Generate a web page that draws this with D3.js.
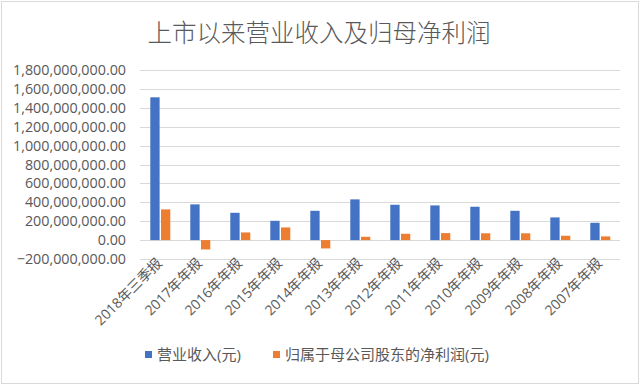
<!DOCTYPE html>
<html>
<head>
<meta charset="utf-8">
<script src="https://cdn.jsdelivr.net/npm/d3@7"></script>
<style>
  body { margin: 0; background: #fff; }
  text { font-family: "Open Sans", "Noto Sans CJK SC", sans-serif; fill: #595959; }
</style>
</head>
<body>
<div id="viz"></div>
<script>
// data
var categories = ["2018年三季报", "2017年年报", "2016年年报", "2015年年报", "2014年年报", "2013年年报",
  "2012年年报", "2011年年报", "2010年年报", "2009年年报", "2008年年报", "2007年年报"];
var revenue = [1511e6, 378e6, 289e6, 204e6, 310e6, 431e6, 374e6, 367e6, 353e6, 310e6, 240e6, 183e6];
var netProfit = [325e6, -99e6, 81e6, 134e6, -88e6, 35e6, 67e6, 74e6, 72e6, 72e6, 46e6, 39e6];
var seriesNames = ["营业收入(元)", "归属于母公司股东的净利润(元)"];
var colours = ["#4472C4", "#ED7D31"];
var yTicks = [-200e6, 0, 200e6, 400e6, 600e6, 800e6, 1000e6, 1200e6, 1400e6, 1600e6, 1800e6];

var width = 640, height = 385;
var margin = {top: 70, right: 20, bottom: 126, left: 140};

var svg = d3.select("#viz").append("svg")
  .attr("width", width)
  .attr("height", height);

// frame
svg.append("rect")
  .attr("x", 1.5).attr("y", 1.5)
  .attr("width", width - 3).attr("height", height - 3)
  .attr("fill", "none")
  .attr("stroke", "#d9d9d9");

// title
svg.append("text")
  .attr("x", 319)
  .attr("y", 42)
  .attr("text-anchor", "middle")
  .style("font-size", "24.5px")
  .style("font-weight", "300")
  .style("font-family", "'Noto Sans CJK SC', sans-serif")
  .text("上市以来营业收入及归母净利润");

var x = d3.scaleBand()
  .domain(categories)
  .range([margin.left, width - margin.right]);

var inner = d3.scaleBand()
  .domain([0, 1])
  .range([0, 20])
  .paddingInner(0.13);

var y = d3.scaleLinear()
  .domain([-200e6, 1800e6])
  .range([259, 70]);

// gridlines
svg.append("g")
  .selectAll("line")
  .data(yTicks)
  .enter()
  .append("line")
  .attr("x1", margin.left)
  .attr("x2", width - margin.right)
  .attr("y1", function(d) { return Math.round(y(d)) + 0.5; })
  .attr("y2", function(d) { return Math.round(y(d)) + 0.5; })
  .attr("stroke", "#d9d9d9")
  .attr("stroke-width", 1);

// y axis labels
var fmt = d3.format(",.2f");
svg.append("g")
  .selectAll("text")
  .data(yTicks)
  .enter()
  .append("text")
  .attr("x", 126)
  .attr("y", function(d) { return y(d); })
  .attr("dy", "0.35em")
  .attr("text-anchor", "end")
  .style("font-size", "14.3px")
  .text(function(d) { return fmt(d); });

// bars
var series = [revenue, netProfit];
var groups = svg.append("g")
  .selectAll("g")
  .data(categories)
  .enter()
  .append("g")
  .attr("transform", function(d) {
    return "translate(" + (x(d) + x.bandwidth() / 2 - 9.7) + ",0)";
  });

groups.selectAll("rect")
  .data(function(d, i) { return series.map(function(s, j) { return {s: j, v: s[i]}; }); })
  .enter()
  .append("rect")
  .attr("x", function(d) { return inner(d.s); })
  .attr("width", inner.bandwidth())
  .attr("y", function(d) { return y(Math.max(0, d.v)); })
  .attr("height", function(d) { return Math.abs(y(d.v) - y(0)); })
  .attr("fill", function(d) { return colours[d.s]; });

// x axis labels
svg.append("g")
  .selectAll("text")
  .data(categories)
  .enter()
  .append("text")
  .attr("transform", function(d) {
    return "translate(" + (x(d) + x.bandwidth() / 2 + 3) + ",264) rotate(-45)";
  })
  .attr("text-anchor", "end")
  .style("font-size", "14px")
  .text(function(d) { return d; });

// legend
var legendX = [145, 273];
var legend = svg.append("g")
  .selectAll("g")
  .data(seriesNames)
  .enter()
  .append("g")
  .attr("transform", function(d, i) { return "translate(" + legendX[i] + ",355)"; });

legend.append("rect")
  .attr("x", 0).attr("y", -4)
  .attr("width", 7).attr("height", 7)
  .attr("fill", function(d, i) { return colours[i]; });

legend.append("text")
  .attr("x", 12)
  .attr("y", 0)
  .attr("dy", "0.35em")
  .style("font-size", "15px")
  .text(function(d) { return d; });
</script>
</body>
</html>
